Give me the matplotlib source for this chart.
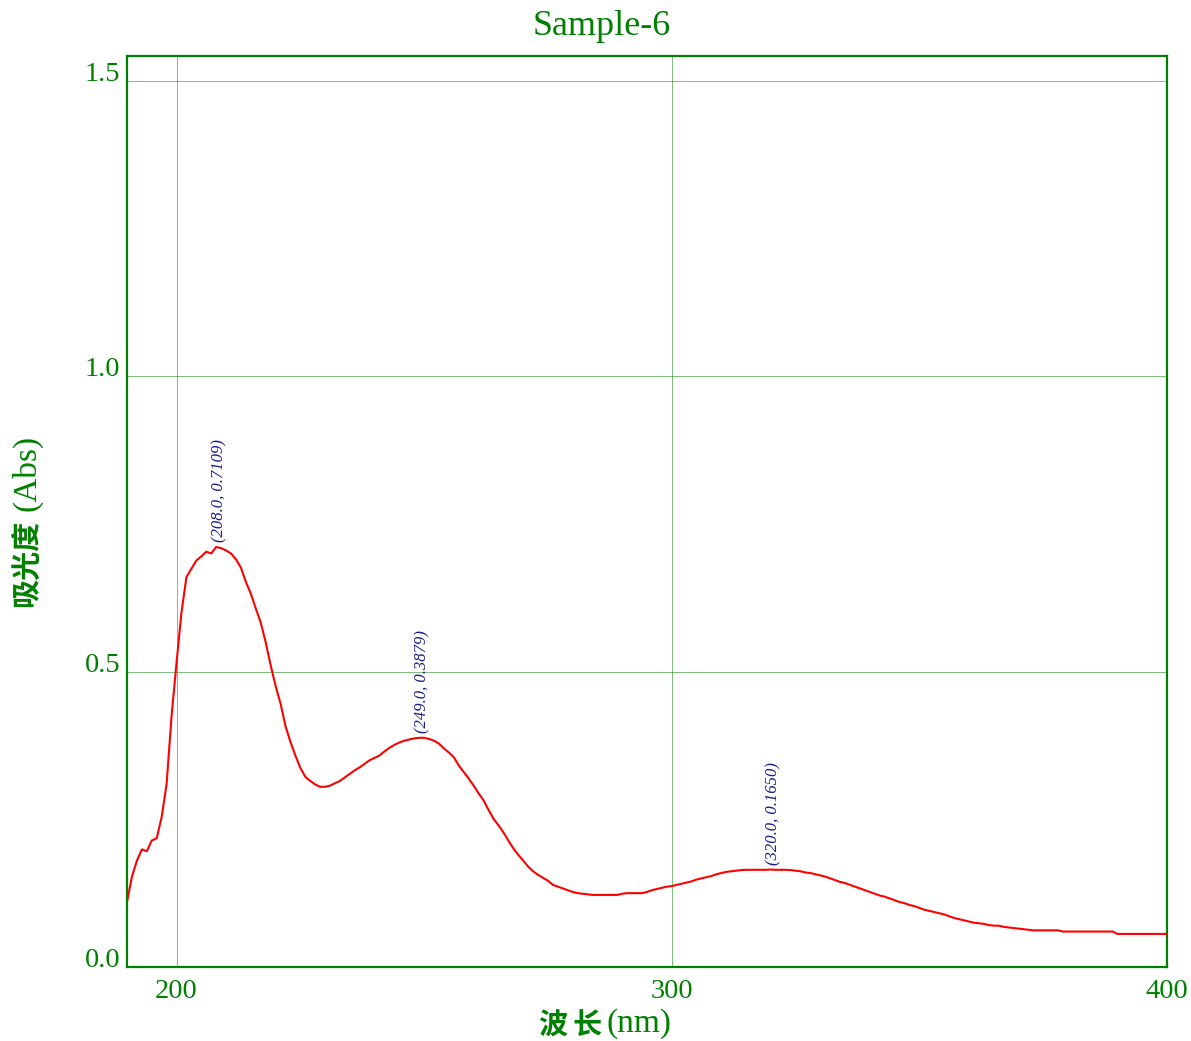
import matplotlib
matplotlib.use("Agg")
import matplotlib.pyplot as plt
import numpy as np

# ---- spectrum data (absorbance vs wavelength, 1 nm step) ----
wavelength_start = 190
wavelength_stop = 400
absorbance = [
    0.110, 0.153, 0.180, 0.199, 0.196, 0.214, 0.218, 0.254, 0.310, 0.425,   # 190-199
    0.515, 0.600, 0.660, 0.674, 0.688, 0.695, 0.703, 0.700, 0.7109, 0.709,  # 200-209
    0.705, 0.700, 0.690, 0.676, 0.652, 0.632, 0.607, 0.583, 0.550, 0.511,   # 210-219
    0.476, 0.446, 0.408, 0.381, 0.358, 0.337, 0.322, 0.315, 0.309, 0.305,   # 220-229
    0.305, 0.307, 0.311, 0.315, 0.321, 0.327, 0.333, 0.338, 0.344, 0.350,   # 230-239
    0.354, 0.358, 0.365, 0.371, 0.376, 0.380, 0.383, 0.385, 0.387, 0.3879,  # 240-249
    0.388, 0.386, 0.383, 0.378, 0.370, 0.363, 0.355, 0.341, 0.330, 0.319,   # 250-259
    0.307, 0.294, 0.282, 0.266, 0.251, 0.240, 0.228, 0.214, 0.201, 0.190,   # 260-269
    0.180, 0.170, 0.162, 0.156, 0.151, 0.146, 0.139, 0.136, 0.133, 0.130,   # 270-279
    0.127, 0.125, 0.124, 0.123, 0.122, 0.122, 0.122, 0.122, 0.122, 0.122,   # 280-289
    0.124, 0.125, 0.125, 0.125, 0.125, 0.127, 0.130, 0.132, 0.134, 0.136,   # 290-299
    0.137, 0.139, 0.141, 0.143, 0.145, 0.148, 0.150, 0.152, 0.154, 0.157,   # 300-309
    0.159, 0.161, 0.162, 0.163, 0.164, 0.1645, 0.1645, 0.1645, 0.1645, 0.1645,  # 310-319
    0.1650, 0.1645, 0.1645, 0.1645, 0.164, 0.163, 0.162, 0.160, 0.159, 0.157,   # 320-329
    0.155, 0.153, 0.150, 0.147, 0.144, 0.142, 0.139, 0.136, 0.133, 0.130,   # 330-339
    0.127, 0.124, 0.121, 0.119, 0.116, 0.113, 0.110, 0.108, 0.105, 0.103,   # 340-349
    0.100, 0.097, 0.095, 0.093, 0.091, 0.089, 0.086, 0.083, 0.081, 0.079,   # 350-359
    0.077, 0.075, 0.074, 0.073, 0.071, 0.070, 0.070, 0.068, 0.067, 0.066,   # 360-369
    0.065, 0.064, 0.063, 0.062, 0.062, 0.062, 0.062, 0.062, 0.062, 0.060,   # 370-379
    0.060, 0.060, 0.060, 0.060, 0.060, 0.060, 0.060, 0.060, 0.060, 0.060,   # 380-389
    0.056, 0.056, 0.056, 0.056, 0.056, 0.056, 0.056, 0.056, 0.056, 0.056,   # 390-399
    0.056,                                                                  # 400
]
wavelength = np.arange(wavelength_start, wavelength_stop + 1)

# picked peaks
peak_wavelength = [208.0, 249.0, 320.0]
peak_absorbance = [0.7109, 0.3879, 0.1650]

x_ticks = [200, 300, 400]
y_ticks = [0.0, 0.5, 1.0, 1.5]

title_text = "Sample-6"

GREEN = "#008000"
GRID_GREEN = "#008000"
RED = "#ff0000"
NAVY = "#1c1c8c"

plt.rcParams["font.family"] = ["Liberation Serif", "Noto Sans CJK SC"]

W, H = 1191, 1041
fig = plt.figure(figsize=(W / 100, H / 100), dpi=100)
fig.patch.set_facecolor("white")


def px(x, y):
    """Pixel position (from top-left) to figure fraction."""
    return x / W, 1 - y / H


L, R, T, B = 127, 1167, 56, 967
ax = fig.add_axes([L / W, 1 - B / H, (R - L) / W, (B - T) / H])

ax.plot(wavelength, absorbance, color=RED, lw=1.5, zorder=3)
ax.set_xlim(190, 400)
ax.set_ylim(0, 1.542)

for s in ax.spines.values():
    s.set_color(GREEN)
    s.set_linewidth(1.6)

ax.set_xticks(x_ticks)
ax.set_xticklabels([str(t) for t in x_ticks])
ax.set_yticks(y_ticks)
ax.set_yticklabels([f"{t:.1f}" for t in y_ticks])
ax.tick_params(length=0, colors=GREEN, labelsize=20.5)
ax.tick_params(axis="y", pad=5)
ax.tick_params(axis="x", pad=9)
for lab in ax.get_yticklabels():
    lab.set_va("baseline")

# one-pixel dotted grid
ax.grid(True, color=GRID_GREEN, ls=(0, (1, 1)), lw=0.72)
ax.set_axisbelow(True)

# peak annotations
for xw, ya in zip(peak_wavelength, peak_absorbance):
    ax.annotate(f"({xw:.1f}, {ya:.4f})", xy=(xw, ya), xytext=(3, 5),
                textcoords="offset pixels", rotation=90, ha="center",
                va="bottom", fontsize=12, fontstyle="italic", color=NAVY)

# title
fig.text(*px(602, 35), title_text, ha="center", va="baseline",
         fontsize=26, color=GREEN)

# x label: 波 长(nm)
fig.text(*px(538, 1035), "波", family="Noto Sans CJK SC", fontweight="bold",
         fontsize=21, color=GREEN, ha="left", va="baseline")
fig.text(*px(573, 1035), "长", family="Noto Sans CJK SC", fontweight="bold",
         fontsize=21, color=GREEN, ha="left", va="baseline")
fig.text(*px(606, 1032), "(nm)", fontsize=24, color=GREEN,
         ha="left", va="baseline")

# y label: 吸光度(Abs)
fig.text(*px(36, 607), "吸光度", family="Noto Sans CJK SC", fontweight="bold",
         fontsize=21, color=GREEN, rotation=90, rotation_mode="anchor",
         ha="left", va="baseline")
fig.text(*px(35, 511), "(Abs)", fontsize=24, color=GREEN, rotation=90,
         rotation_mode="anchor", ha="left", va="baseline")

fig.savefig("out.png", dpi=100, facecolor="white")
